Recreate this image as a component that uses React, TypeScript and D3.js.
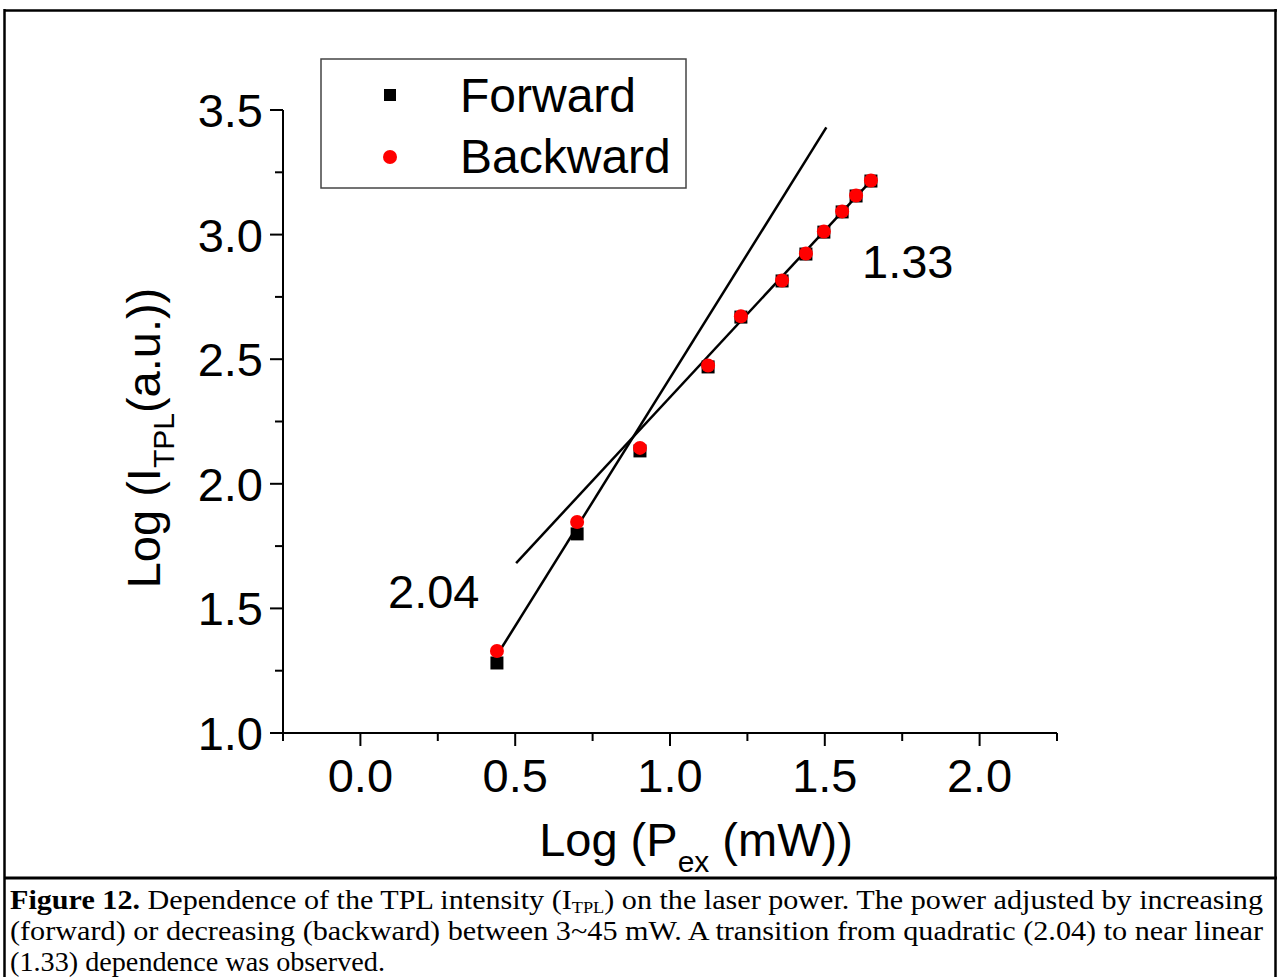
import React from "react";
import * as d3 from "d3";

const xValues = [0.441, 0.7, 0.903, 1.123, 1.229, 1.362, 1.439, 1.497, 1.556, 1.601, 1.649];
const forwardY = [1.281, 1.799, 2.132, 2.469, 2.669, 2.814, 2.922, 3.01, 3.091, 3.155, 3.215];
const backwardY = [1.329, 1.847, 2.144, 2.475, 2.672, 2.816, 2.924, 3.012, 3.093, 3.157, 3.217];
const fitQuadratic: [number, number][] = [[0.44, 1.31], [1.505, 3.43]];
const fitLinear: [number, number][] = [[0.503, 1.682], [1.652, 3.22]];
const xTicks = [0, 0.5, 1.0, 1.5, 2.0];
const xMinorTicks = [-0.25, 0.25, 0.75, 1.25, 1.75, 2.25];
const yTicks = [1.0, 1.5, 2.0, 2.5, 3.0, 3.5];
const yMinorTicks = [1.25, 1.75, 2.25, 2.75, 3.25];
const seriesNames = ["Forward", "Backward"];
const slopeLabels = ["2.04", "1.33"];

const W = 1277;
const H = 977;
const SANS = "'Liberation Sans', Arial, sans-serif";
const SERIF = "'Liberation Serif', 'Times New Roman', serif";

export default function App() {
  const x = d3.scaleLinear().domain([-0.25, 2.25]).range([283, 1057]);
  const y = d3.scaleLinear().domain([1.0, 3.5]).range([733, 110]);
  const line = d3
    .line<[number, number]>()
    .x((d) => x(d[0]))
    .y((d) => y(d[1]));
  const fmt = d3.format(".1f");
  const fs = 47;
  const cfs = 28;

  return (
    <svg
      width={W}
      height={H}
      style={{ position: "absolute", left: 0, top: 0, background: "#fff" }}
    >
      <rect x={0} y={0} width={W} height={H} fill="#fff" />
      {/* frame */}
      <line x1={4} y1={10.5} x2={W} y2={10.5} stroke="#000" strokeWidth={2.5} />
      <line x1={4.5} y1={9} x2={4.5} y2={H} stroke="#000" strokeWidth={2.5} />
      <line x1={1275.5} y1={9} x2={1275.5} y2={H} stroke="#000" strokeWidth={2.5} />
      <line x1={4} y1={878} x2={W} y2={878} stroke="#000" strokeWidth={3} />

      {/* axes */}
      <line x1={x(-0.25)} y1={y(1)} x2={x(2.25)} y2={y(1)} stroke="#000" strokeWidth={2} />
      <line x1={x(-0.25)} y1={y(1)} x2={x(-0.25)} y2={y(3.5)} stroke="#000" strokeWidth={2} />
      {xTicks.map((t) => (
        <g key={"xt" + t}>
          <line x1={x(t)} x2={x(t)} y1={y(1)} y2={y(1) + 13} stroke="#000" strokeWidth={2} />
          <text x={x(t)} y={792} textAnchor="middle" fontFamily={SANS} fontSize={fs}>
            {fmt(t)}
          </text>
        </g>
      ))}
      {xMinorTicks.map((t) => (
        <line key={"xm" + t} x1={x(t)} x2={x(t)} y1={y(1)} y2={y(1) + 8} stroke="#000" strokeWidth={2} />
      ))}
      {yTicks.map((t) => (
        <g key={"yt" + t}>
          <line x1={x(-0.25) - 13} x2={x(-0.25)} y1={y(t)} y2={y(t)} stroke="#000" strokeWidth={2} />
          <text x={263} y={y(t) + 17} textAnchor="end" fontFamily={SANS} fontSize={fs}>
            {fmt(t)}
          </text>
        </g>
      ))}
      {yMinorTicks.map((t) => (
        <line key={"ym" + t} x1={x(-0.25) - 8} x2={x(-0.25)} y1={y(t)} y2={y(t)} stroke="#000" strokeWidth={2} />
      ))}

      {/* axis titles */}
      <text
        transform="translate(160,438) rotate(-90)"
        textAnchor="middle"
        fontFamily={SANS}
        fontSize={fs}
      >
        Log (I
        <tspan fontSize={30} dy={14}>TPL</tspan>
        <tspan dy={-14}>(a.u.))</tspan>
      </text>
      <text x={696} y={856} textAnchor="middle" fontFamily={SANS} fontSize={fs}>
        Log (P
        <tspan fontSize={30} dy={16}>ex</tspan>
        <tspan dy={-16}> (mW))</tspan>
      </text>

      {/* fit lines */}
      <path d={line(fitQuadratic) || ""} fill="none" stroke="#000" strokeWidth={2.5} />
      <path d={line(fitLinear) || ""} fill="none" stroke="#000" strokeWidth={2.5} />

      {/* forward squares */}
      {xValues.map((xv, i) => (
        <rect
          key={"f" + i}
          x={x(xv) - 6.5}
          y={y(forwardY[i]) - 6.5}
          width={13}
          height={13}
          fill="#000"
        />
      ))}
      {/* backward circles */}
      {xValues.map((xv, i) => (
        <circle key={"b" + i} cx={x(xv)} cy={y(backwardY[i])} r={7} fill="#ff0000" />
      ))}

      {/* slope labels */}
      <text x={388} y={608} fontFamily={SANS} fontSize={fs}>
        {slopeLabels[0]}
      </text>
      <text x={862} y={278} fontFamily={SANS} fontSize={fs}>
        {slopeLabels[1]}
      </text>

      {/* legend */}
      <rect x={321} y={59} width={365} height={129} fill="#fff" stroke="#444" strokeWidth={1.5} />
      <rect x={384} y={89} width={12} height={12} fill="#000" />
      <circle cx={390} cy={157} r={7} fill="#ff0000" />
      <text x={460} y={112} fontFamily={SANS} fontSize={48}>
        {seriesNames[0]}
      </text>
      <text x={460} y={173} fontFamily={SANS} fontSize={48}>
        {seriesNames[1]}
      </text>

      {/* caption */}
      <text x={10} y={909} fontFamily={SERIF} fontSize={cfs} textLength={1253} lengthAdjust="spacingAndGlyphs">
        <tspan fontWeight="bold">Figure 12.</tspan>
        {"  Dependence of the TPL intensity (I"}
        <tspan fontSize={17} dy={4}>TPL</tspan>
        <tspan dy={-4}>{") on the laser power. The power adjusted by increasing"}</tspan>
      </text>
      <text x={10} y={940} fontFamily={SERIF} fontSize={cfs} textLength={1253} lengthAdjust="spacingAndGlyphs">
        (forward) or decreasing (backward) between 3~45 mW. A transition from quadratic (2.04) to near linear
      </text>
      <text x={10} y={971} fontFamily={SERIF} fontSize={cfs} textLength={375} lengthAdjust="spacingAndGlyphs">
        (1.33) dependence was observed.
      </text>
    </svg>
  );
}
